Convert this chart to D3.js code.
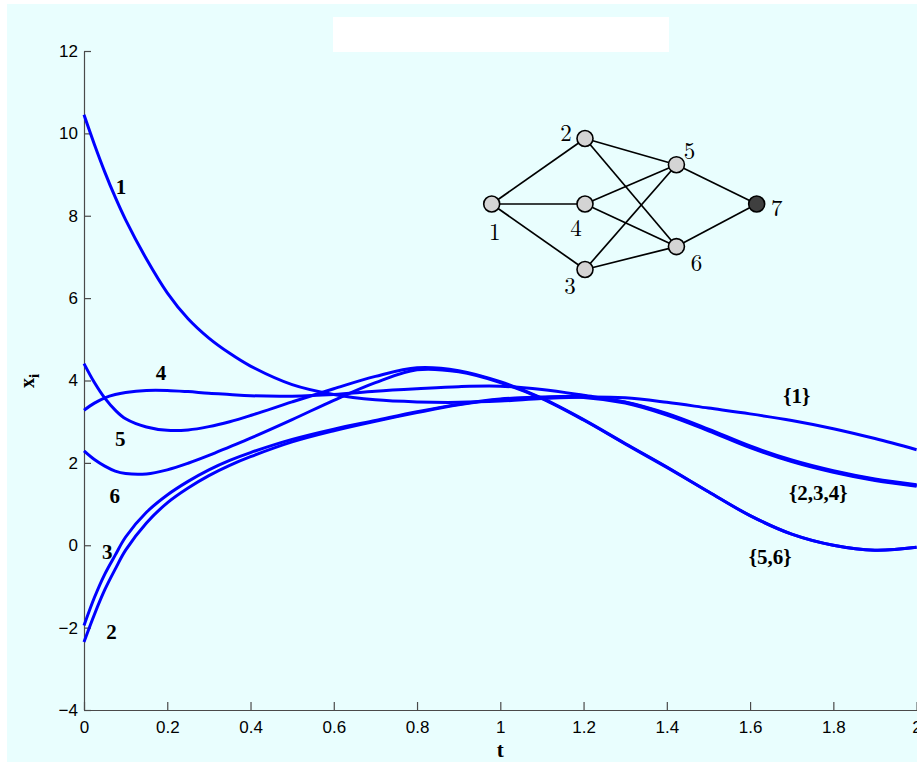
<!DOCTYPE html>
<html>
<head>
<meta charset="utf-8">
<script src="https://cdn.jsdelivr.net/npm/d3@7"></script>
<style>
  html, body { margin: 0; padding: 0; background: #ffffff; }
  svg { display: block; }
</style>
</head>
<body>
<div id="chart"></div>
<script>
// time samples and node trajectories
const tValues = [0, 0.025, 0.05, 0.075, 0.1, 0.15, 0.2, 0.25, 0.3, 0.35, 0.4, 0.5, 0.6, 0.7,
  0.8, 0.9, 1.0, 1.1, 1.2, 1.3, 1.4, 1.5, 1.6, 1.7, 1.8, 1.9, 2.0];
const x1 = [10.45, 9.73, 9.06, 8.45, 7.9, 6.95, 6.13, 5.5, 5.03, 4.66, 4.35, 3.9, 3.66, 3.53,
  3.48, 3.47, 3.5, 3.56, 3.6, 3.58, 3.47, 3.33, 3.19, 3.03, 2.83, 2.59, 2.32];
const x2 = [-2.35, -1.68, -1.08, -0.58, -0.12, 0.54, 1.03, 1.39, 1.69, 1.94, 2.15, 2.51, 2.78, 3.01,
  3.22, 3.41, 3.54, 3.59, 3.59, 3.45, 3.16, 2.78, 2.37, 2.03, 1.77, 1.57, 1.43];
const x3 = [-1.95, -1.27, -0.7, -0.24, 0.2, 0.8, 1.22, 1.55, 1.83, 2.06, 2.25, 2.57, 2.82, 3.03,
  3.24, 3.42, 3.55, 3.6, 3.61, 3.47, 3.18, 2.8, 2.39, 2.05, 1.79, 1.59, 1.45];
const x4 = [3.28, 3.45, 3.58, 3.66, 3.71, 3.76, 3.76, 3.73, 3.69, 3.66, 3.63, 3.62, 3.66, 3.74,
  3.8, 3.85, 3.86, 3.78, 3.64, 3.48, 3.2, 2.82, 2.41, 2.07, 1.81, 1.61, 1.47];
const x5 = [4.41, 3.95, 3.57, 3.28, 3.07, 2.87, 2.79, 2.8, 2.88, 3.0, 3.15, 3.48, 3.8, 4.1,
  4.31, 4.24, 3.97, 3.57, 3.05, 2.47, 1.9, 1.3, 0.72, 0.27, 0.0, -0.12, -0.05];
const x6 = [2.29, 2.08, 1.92, 1.8, 1.74, 1.73, 1.83, 1.99, 2.18, 2.39, 2.6, 3.05, 3.52, 3.95,
  4.26, 4.21, 3.95, 3.56, 3.04, 2.46, 1.89, 1.3, 0.72, 0.27, 0.0, -0.12, -0.05];

const xTicks = [0, 0.2, 0.4, 0.6, 0.8, 1, 1.2, 1.4, 1.6, 1.8, 2];
const yTicks = [-4, -2, 0, 2, 4, 6, 8, 10, 12];

// curve labels: text, t, value
const curveLabels = [
  ['1', 0.089, 8.7], ['4', 0.185, 4.2], ['5', 0.087, 2.6], ['6', 0.074, 1.2],
  ['3', 0.056, -0.16], ['2', 0.066, -2.1],
  ['{1}', 1.712, 3.63], ['{2,3,4}', 1.764, 1.28], ['{5,6}', 1.648, -0.28]
];

// inset graph: nodes, edges
const graphNodes = ['1', '2', '3', '4', '5', '6', '7'];
const graphEdges = [[1, 2], [1, 4], [1, 3], [2, 5], [2, 6], [4, 5], [4, 6], [3, 5], [3, 6], [5, 7], [6, 7]];
const leaderNode = '7';

const width = 917;
const height = 763;

const svg = d3.select('#chart').append('svg')
  .attr('width', width)
  .attr('height', height);

// figure background
svg.append('rect')
  .attr('x', 7).attr('y', 4)
  .attr('width', width - 7).attr('height', 758)
  .attr('fill', '#e9fefe');

// empty title box
svg.append('rect')
  .attr('x', 333).attr('y', 17)
  .attr('width', 336).attr('height', 35)
  .attr('fill', '#ffffff');

const x = d3.scaleLinear().domain([0, 2]).range([84, 916.6]);
const y = d3.scaleLinear().domain([-4, 12]).range([710, 51]);

// axes, ticks pointing inward
const yAxis = svg.append('g')
  .attr('transform', 'translate(' + x(0) + ',0)')
  .call(d3.axisLeft(y).tickValues(yTicks).tickSizeInner(-7).tickSizeOuter(0).tickPadding(6));

const xAxis = svg.append('g')
  .attr('transform', 'translate(0,' + y(-4) + ')')
  .call(d3.axisBottom(x).tickValues(xTicks).tickSizeInner(-8).tickSizeOuter(0).tickPadding(11)
    .tickFormat(d => String(d)));

[xAxis, yAxis].forEach(a => {
  a.select('.domain').attr('stroke', '#4a4a4a').attr('stroke-width', 1.2);
  a.selectAll('.tick line').attr('stroke', '#4a4a4a').attr('stroke-width', 1.2);
  a.selectAll('.tick text')
    .attr('fill', '#000')
    .attr('font-family', '"Liberation Sans", Arial, sans-serif')
    .attr('font-size', 17);
});

// axis titles
svg.append('text')
  .attr('x', x(1)).attr('y', 757)
  .attr('text-anchor', 'middle')
  .attr('font-family', '"Liberation Serif", "Times New Roman", serif')
  .attr('font-weight', 'bold')
  .attr('font-size', 21)
  .text('t');

const yLabel = svg.append('text')
  .attr('transform', 'translate(34,381) rotate(-90)')
  .attr('text-anchor', 'middle')
  .attr('font-family', '"Liberation Serif", "Times New Roman", serif')
  .attr('font-weight', 'bold')
  .attr('font-size', 20);
yLabel.append('tspan').text('x');
yLabel.append('tspan').attr('dy', 5).attr('font-size', 15).text('i');

// trajectories
const series = [x1, x2, x3, x4, x5, x6];
const line = d3.line()
  .x(d => x(d[0]))
  .y(d => y(d[1]))
  .curve(d3.curveCatmullRom.alpha(0.5));

svg.append('g')
  .selectAll('path')
  .data(series)
  .enter().append('path')
  .attr('d', s => line(tValues.map((t, i) => [t, s[i]])))
  .attr('fill', 'none')
  .attr('stroke', '#0000ff')
  .attr('stroke-width', 3)
  .attr('stroke-linejoin', 'round');

svg.append('g')
  .selectAll('text')
  .data(curveLabels)
  .enter().append('text')
  .attr('x', d => x(d[1]))
  .attr('y', d => y(d[2]))
  .attr('dy', '0.35em')
  .attr('text-anchor', 'middle')
  .attr('font-family', '"Liberation Serif", "Times New Roman", serif')
  .attr('font-weight', 'bold')
  .attr('font-size', 21)
  .text(d => d[0]);

// inset graph layout (column, row) in diagram units
const nodeLayout = {
  '1': [0, 0], '2': [1, -1], '4': [1, 0], '3': [1, 1],
  '5': [1.98, -0.6], '6': [1.98, 0.65], '7': [2.84, 0]
};
// label offset for each node
const labelOffset = {
  '1': [3, 28], '2': [-19, -6], '3': [-15, 16], '4': [-9, 24],
  '5': [13, -14], '6': [20, 16], '7': [20, 4]
};
const gx = d3.scaleLinear().domain([0, 1]).range([491.7, 585]);
const gy = d3.scaleLinear().domain([0, 1]).range([204, 269.5]);

const graph = svg.append('g');

graph.selectAll('line')
  .data(graphEdges)
  .enter().append('line')
  .attr('x1', e => gx(nodeLayout[e[0]][0]))
  .attr('y1', e => gy(nodeLayout[e[0]][1]))
  .attr('x2', e => gx(nodeLayout[e[1]][0]))
  .attr('y2', e => gy(nodeLayout[e[1]][1]))
  .attr('stroke', '#000')
  .attr('stroke-width', 1.7);

graph.selectAll('circle')
  .data(graphNodes)
  .enter().append('circle')
  .attr('cx', n => gx(nodeLayout[n][0]))
  .attr('cy', n => gy(nodeLayout[n][1]))
  .attr('r', 8)
  .attr('fill', n => n === leaderNode ? '#3f3f3f' : '#d4d4d4')
  .attr('stroke', '#000')
  .attr('stroke-width', 1.6);

graph.selectAll('text')
  .data(graphNodes)
  .enter().append('text')
  .attr('x', n => gx(nodeLayout[n][0]) + labelOffset[n][0])
  .attr('y', n => gy(nodeLayout[n][1]) + labelOffset[n][1])
  .attr('dy', '0.35em')
  .attr('text-anchor', 'middle')
  .attr('font-family', '"Latin Modern Roman", "Liberation Serif", serif')
  .attr('font-size', 23)
  .text(n => n);
</script>
</body>
</html>
